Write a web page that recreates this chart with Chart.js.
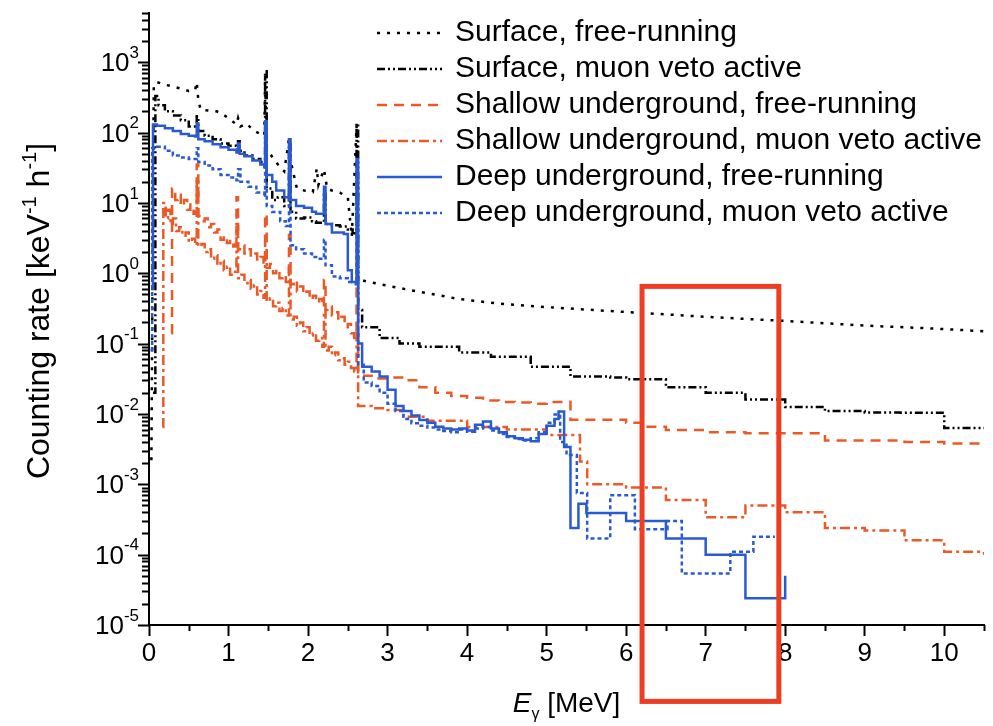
<!DOCTYPE html>
<html>
<head>
<meta charset="utf-8">
<script src="https://cdn.jsdelivr.net/npm/chart.js@4.4.1/dist/chart.umd.min.js"></script>
<style>
  html, body { margin: 0; padding: 0; background: #fff; }
</style>
</head>
<body>
<canvas id="chart-1" width="993" height="726"></canvas>
<script>
// axis ticks
const xTickLabels = [0, 1, 2, 3, 4, 5, 6, 7, 8, 9, 10];
const yTickExps = [-5, -4, -3, -2, -1, 0, 1, 2, 3];

// Surface, free-running (MeV, keV^-1 h^-1)
const surfFreeE = [0.03, 0.06, 0.1, 0.2, 0.3, 0.4, 0.5, 0.58, 0.6, 0.62, 0.65, 0.75, 0.85, 0.9, 1.0, 1.1, 1.12, 1.15, 1.23, 1.3, 1.4, 1.45, 1.46, 1.48, 1.56, 1.65, 1.7, 1.76, 1.78, 1.86, 1.95, 2.06, 2.11, 2.13, 2.2, 2.24, 2.3, 2.4, 2.5, 2.55, 2.61, 2.63, 2.7, 3.1, 3.5, 3.9, 4.4, 5.0, 5.8, 6.5, 7.0, 8.0, 9.0, 9.8, 10.5];
const surfFreeR = [0.0022, 480, 520, 480, 450, 420, 390, 400, 520, 290, 210, 205, 200, 190, 160, 130, 160, 122, 134, 110, 95, 90, 650, 60, 43, 32, 28, 80, 40, 16, 15, 14.3, 31, 18, 30, 16, 15, 14, 12, 3.3, 126, 0.8, 0.78, 0.63, 0.52, 0.43, 0.37, 0.33, 0.29, 0.26, 0.24, 0.21, 0.18, 0.165, 0.15];

// Surface, muon veto active
const surfVetoE = [0.05, 0.08, 0.12, 0.2, 0.3, 0.4, 0.5, 0.58, 0.6, 0.62, 0.7, 0.8, 0.9, 1.0, 1.1, 1.12, 1.14, 1.2, 1.3, 1.4, 1.45, 1.46, 1.48, 1.55, 1.62, 1.7, 1.76, 1.78, 1.85, 1.95, 2.05, 2.1, 2.2, 2.22, 2.3, 2.4, 2.5, 2.56, 2.61, 2.63, 2.68, 2.9, 3.15, 3.4, 3.9, 4.3, 4.8, 5.1, 5.3, 5.8, 6.0, 6.5, 7.0, 7.5, 8.0, 8.5, 9.0, 9.45, 10.0, 10.5];
const surfVetoR = [0.02, 330, 245, 200, 175, 150, 122, 115, 170, 105, 90, 80, 70, 65, 58, 75, 55, 47, 42, 38, 36, 740, 16, 11, 12, 9, 74, 7.5, 6, 6.2, 5.5, 5.2, 14, 5, 4.8, 4.6, 4.2, 3.7, 135, 0.3, 0.17, 0.12, 0.10, 0.09, 0.075, 0.065, 0.047, 0.047, 0.034, 0.033, 0.031, 0.024, 0.020, 0.016, 0.0126, 0.011, 0.0105, 0.0104, 0.0063, 0.0063];

// Shallow underground, free-running
const shalFreeE = [0.28, 0.29, 0.33, 0.36, 0.4, 0.44, 0.48, 0.52, 0.56, 0.59, 0.6, 0.62, 0.66, 0.7, 0.74, 0.78, 0.82, 0.86, 0.9, 0.94, 0.98, 1.02, 1.06, 1.09, 1.1, 1.12, 1.16, 1.2, 1.24, 1.28, 1.32, 1.36, 1.4, 1.44, 1.46, 1.48, 1.52, 1.56, 1.6, 1.64, 1.68, 1.72, 1.76, 1.78, 1.82, 1.86, 1.9, 1.94, 1.98, 2.02, 2.06, 2.1, 2.14, 2.18, 2.2, 2.22, 2.26, 2.3, 2.34, 2.38, 2.42, 2.46, 2.5, 2.54, 2.58, 2.61, 2.63,
  2.8, 3.0, 3.2, 3.4, 3.6, 3.8, 4.0, 4.2, 4.4, 4.6, 4.8, 5.0, 5.2, 5.3, 5.5, 6.0, 6.2, 6.5, 7.0, 7.5, 8.0, 8.5, 9.0, 9.5, 10.0, 10.5];
const shalFreeR = [0.14, 16, 11, 13, 9, 11, 8, 9.5, 7, 8, 35, 6.5, 5.5, 6, 4.5, 5, 3.8, 4.2, 3, 3.4, 2.7, 3, 2.4, 2.6, 12, 2.2, 2.5, 1.9, 2.2, 1.7, 1.9, 1.5, 1.7, 1.3, 7, 1.2, 1.35, 1.0, 1.15, 0.85, 0.95, 0.75, 3.5, 0.7, 0.8, 0.55, 0.65, 0.5, 0.55, 0.42, 0.48, 0.38, 0.43, 0.33, 0.8, 0.3, 0.34, 0.25, 0.28, 0.21, 0.24, 0.17, 0.19, 0.14, 0.12, 0.6, 0.035,
  0.032, 0.033, 0.030, 0.024, 0.020, 0.018, 0.017, 0.0155, 0.0148, 0.0145, 0.014, 0.0148, 0.0149, 0.0083, 0.0083, 0.0075, 0.0066, 0.0059, 0.0055, 0.0053, 0.0053, 0.0042, 0.0042, 0.004, 0.0038, 0.0038];

// Shallow underground, muon veto active
const shalVetoE = [0.17, 0.18, 0.21, 0.24, 0.27, 0.3, 0.34, 0.38, 0.42, 0.46, 0.5, 0.54, 0.58, 0.6, 0.62, 0.66, 0.7, 0.74, 0.78, 0.82, 0.86, 0.9, 0.94, 0.98, 1.02, 1.06, 1.1, 1.12, 1.16, 1.2, 1.24, 1.28, 1.32, 1.36, 1.4, 1.44, 1.46, 1.48, 1.52, 1.56, 1.6, 1.64, 1.68, 1.72, 1.76, 1.78, 1.82, 1.86, 1.9, 1.94, 1.98, 2.02, 2.06, 2.1, 2.14, 2.18, 2.2, 2.22, 2.26, 2.3, 2.34, 2.38, 2.42, 2.46, 2.5, 2.54, 2.58, 2.61, 2.63,
  2.8, 3.0, 3.2, 3.5, 4.0, 4.5, 5.0, 5.42, 5.51, 6.0, 6.5, 7.0, 7.5, 8.0, 8.5, 9.0, 9.5, 10.0, 10.5];
const shalVetoR = [0.0065, 10, 6, 8, 5, 6, 4, 4.5, 3.4, 3.8, 2.8, 3.1, 2.5, 20, 2.4, 2.6, 2.0, 2.2, 1.6, 1.8, 1.3, 1.5, 1.1, 1.25, 0.95, 1.05, 5, 0.85, 0.95, 0.72, 0.8, 0.6, 0.68, 0.5, 0.56, 0.45, 2.5, 0.4, 0.44, 0.34, 0.38, 0.29, 0.32, 0.25, 1.2, 0.22, 0.24, 0.18, 0.2, 0.15, 0.17, 0.13, 0.14, 0.11, 0.12, 0.09, 0.3, 0.08, 0.09, 0.068, 0.075, 0.058, 0.062, 0.05, 0.055, 0.045, 0.04, 0.15, 0.013,
  0.012, 0.0114, 0.0091, 0.008, 0.0065, 0.006, 0.005, 0.0021, 0.001, 0.0009, 0.0006, 0.00034, 0.0005, 0.0004, 0.00024, 0.00022, 0.00016, 0.00011, 0.0001];

// Deep underground, free-running
const deepFreeE = [0.03, 0.05, 0.1, 0.2, 0.3, 0.4, 0.5, 0.58, 0.6, 0.62, 0.7, 0.8, 0.9, 1.0, 1.1, 1.12, 1.14, 1.2, 1.3, 1.4, 1.45, 1.46, 1.48, 1.55, 1.6, 1.7, 1.76, 1.78, 1.85, 1.95, 2.05, 2.1, 2.2, 2.22, 2.3, 2.4, 2.45, 2.5, 2.55, 2.61, 2.63, 2.68, 2.8, 2.9, 3.0, 3.1, 3.2, 3.3, 3.4, 3.5, 3.6, 3.7, 3.8, 3.9, 4.0, 4.1, 4.2, 4.3, 4.4, 4.5, 4.6, 4.7, 4.8, 4.9, 5.0, 5.1, 5.15, 5.22, 5.3, 5.4, 5.5, 6.0, 6.5, 7.0, 7.5, 8.0];
const deepFreeR = [0.6, 130, 125, 115, 105, 95, 90, 88, 135, 80, 75, 68, 62, 57, 52, 70, 50, 46, 40, 35, 32, 145, 25, 20, 15, 12, 80, 11, 9, 8.5, 7.5, 7, 17, 5, 3.8, 3.8, 3.6, 1.1, 0.75, 42, 0.10, 0.047, 0.040, 0.034, 0.022, 0.013, 0.011, 0.0095, 0.0082, 0.0075, 0.0066, 0.0062, 0.006, 0.0062, 0.0058, 0.007, 0.0078, 0.0062, 0.0055, 0.0048, 0.0045, 0.0043, 0.0041, 0.0052, 0.0068, 0.0085, 0.0108, 0.0034, 0.00024, 0.00053, 0.00039, 0.0003, 0.00017, 0.0001, 0.000024, 0.00005];

// Deep underground, muon veto active
const deepVetoE = [0.02, 0.04, 0.1, 0.2, 0.3, 0.4, 0.5, 0.6, 0.62, 0.7, 0.8, 0.9, 1.0, 1.1, 1.12, 1.15, 1.25, 1.35, 1.45, 1.46, 1.48, 1.55, 1.65, 1.72, 1.76, 1.78, 1.85, 1.95, 2.05, 2.12, 2.2, 2.22, 2.3, 2.4, 2.5, 2.6, 2.61, 2.63, 2.7, 2.8, 2.9, 3.0, 3.1, 3.2, 3.3, 3.4, 3.5, 3.6, 3.7, 3.8, 3.9, 4.0, 4.1, 4.2, 4.3, 4.4, 4.5, 4.6, 4.7, 4.8, 4.9, 5.0, 5.1, 5.17, 5.25, 5.38, 5.51, 5.8, 6.11, 6.52, 6.7, 7.31, 7.6, 7.87];
const deepVetoR = [0.08, 60, 63, 55, 47, 44, 42, 60, 38, 34, 30, 25, 23, 21, 30, 20, 17, 14, 12, 60, 9, 7.4, 5.5, 4.7, 25, 2.5, 2.2, 1.9, 1.7, 1.6, 3, 1.3, 0.9, 0.85, 0.75, 0.7, 20, 0.05, 0.028, 0.025, 0.02, 0.014, 0.011, 0.0085, 0.0074, 0.0068, 0.0064, 0.006, 0.0057, 0.0055, 0.006, 0.0056, 0.0062, 0.0065, 0.0058, 0.0052, 0.0047, 0.0044, 0.0042, 0.0045, 0.0055, 0.0075, 0.0098, 0.004, 0.0026, 0.00075, 0.00017, 0.0007, 0.00023, 0.0003, 0.000054, 0.00011, 0.00018, 0.00018];

// highlighted region (red frame)
const boxE = [6.2, 7.92];
const boxRate = [8.2e-7, 0.65];

const FONT = '"Liberation Sans", Arial, sans-serif';
const BLACK = '#000000';
const ORANGE = '#ea5a28';
const BLUE = '#2a5ad2';

const pts = (es, rs) => es.map((e, i) => ({ x: e, y: rs[i] }));

const decor = {
  id: 'decor',
  afterDatasetsDraw(chart) {
    const ctx = chart.ctx, xs = chart.scales.x, ys = chart.scales.y;
    const x1 = xs.getPixelForValue(boxE[0]), x2 = xs.getPixelForValue(boxE[1]);
    const y1 = ys.getPixelForValue(boxRate[1]), y2 = ys.getPixelForValue(boxRate[0]);
    ctx.save();
    ctx.strokeStyle = '#ef3d22';
    ctx.lineWidth = 5;
    ctx.setLineDash([]);
    ctx.strokeRect(x1, y1, x2 - x1, y2 - y1);
    ctx.restore();
  },
  afterDraw(chart) {
    const ctx = chart.ctx, xs = chart.scales.x, ys = chart.scales.y;
    const area = chart.chartArea;
    ctx.save();
    ctx.strokeStyle = BLACK;
    ctx.fillStyle = BLACK;
    ctx.lineWidth = 2;
    ctx.setLineDash([]);

    // y ticks (log minors)
    for (let p = yTickExps[0]; p <= yTickExps[yTickExps.length - 1] + 1; p++) {
      for (let m = 1; m <= 9; m++) {
        const v = m * Math.pow(10, p);
        if (v > ys.max * 1.0001) break;
        const py = Math.round(ys.getPixelForValue(v)) + 0.5;
        const len = m === 1 ? 11 : 7;
        ctx.beginPath();
        ctx.moveTo(area.left - len, py);
        ctx.lineTo(area.left, py);
        ctx.stroke();
      }
    }
    // y tick labels 10^n
    ctx.textBaseline = 'middle';
    ctx.textAlign = 'left';
    yTickExps.forEach(p => {
      const py = ys.getPixelForValue(Math.pow(10, p));
      ctx.font = '26px ' + FONT;
      const wb = ctx.measureText('10').width;
      ctx.font = '17px ' + FONT;
      const sup = String(p);
      const ws = ctx.measureText(sup).width;
      const xr = area.left - 10;
      ctx.font = '26px ' + FONT;
      ctx.fillText('10', xr - wb - ws, py + 2);
      ctx.font = '17px ' + FONT;
      ctx.fillText(sup, xr - ws, py - 9);
    });

    // x minor ticks
    for (let v = 0.5; v <= xs.max + 0.001; v += 1) {
      const px = Math.round(xs.getPixelForValue(v)) + 0.5;
      ctx.beginPath();
      ctx.moveTo(px, area.bottom);
      ctx.lineTo(px, area.bottom + 6);
      ctx.stroke();
    }

    // x title: E_gamma [MeV]
    ctx.textBaseline = 'alphabetic';
    ctx.font = 'italic 28px ' + FONT;
    const wE = ctx.measureText('E').width;
    ctx.font = '16px ' + FONT;
    const wg = ctx.measureText('\u03b3').width;
    ctx.font = '28px ' + FONT;
    const wr = ctx.measureText(' [MeV]').width;
    let tx = (area.left + area.right) / 2 - (wE + wg + wr) / 2;
    const ty = 712;
    ctx.font = 'italic 28px ' + FONT;
    ctx.fillText('E', tx, ty);
    tx += wE;
    ctx.font = '16px ' + FONT;
    ctx.fillText('\u03b3', tx, ty + 7);
    tx += wg;
    ctx.font = '28px ' + FONT;
    ctx.fillText(' [MeV]', tx, ty);

    // y title: Counting rate [keV^-1 h^-1]
    const parts = [
      ['Counting rate [keV', 32, 0],
      ['-1', 20, -13],
      [' h', 32, 0],
      ['-1', 20, -13],
      [']', 32, 0]
    ];
    let total = 0;
    parts.forEach(pt => { ctx.font = pt[1] + 'px ' + FONT; total += ctx.measureText(pt[0]).width; });
    ctx.translate(49, (area.top + area.bottom) / 2 - 8);
    ctx.rotate(-Math.PI / 2);
    let sx = -total / 2;
    parts.forEach(pt => {
      ctx.font = pt[1] + 'px ' + FONT;
      ctx.fillText(pt[0], sx, pt[2]);
      sx += ctx.measureText(pt[0]).width;
    });
    ctx.setTransform(1, 0, 0, 1, 0, 0);

    // legend
    ctx.textBaseline = 'middle';
    ctx.font = '30px ' + FONT;
    chart.data.datasets.forEach((ds, i) => {
      const ly = 33 + i * 36;
      ctx.strokeStyle = ds.borderColor;
      ctx.lineWidth = 2.5;
      ctx.setLineDash(ds.borderDash || []);
      ctx.beginPath();
      ctx.moveTo(377, ly);
      ctx.lineTo(442, ly);
      ctx.stroke();
      ctx.fillStyle = BLACK;
      ctx.fillText(ds.label, 455, ly);
    });
    ctx.restore();
  }
};

const ctx_1 = document.getElementById('chart-1').getContext('2d');

new Chart(ctx_1, {
  type: 'line',
  data: {
    datasets: [{
      label: 'Surface, free-running',
      data: pts(surfFreeE, surfFreeR),
      borderColor: BLACK,
      borderWidth: 2.5,
      borderDash: [3, 7],
      stepped: false,
      order: 5
    }, {
      label: 'Surface, muon veto active',
      data: pts(surfVetoE, surfVetoR),
      borderColor: BLACK,
      borderWidth: 2.5,
      borderDash: [8, 3, 2, 3, 2, 3],
      stepped: true,
      order: 4
    }, {
      label: 'Shallow underground, free-running',
      data: pts(shalFreeE, shalFreeR),
      borderColor: ORANGE,
      borderWidth: 2.5,
      borderDash: [10, 7],
      stepped: true,
      order: 3
    }, {
      label: 'Shallow underground, muon veto active',
      data: pts(shalVetoE, shalVetoR),
      borderColor: ORANGE,
      borderWidth: 2.5,
      borderDash: [10, 4, 3, 4],
      stepped: true,
      order: 2
    }, {
      label: 'Deep underground, free-running',
      data: pts(deepFreeE, deepFreeR),
      borderColor: BLUE,
      borderWidth: 2.5,
      stepped: true,
      order: 1
    }, {
      label: 'Deep underground, muon veto active',
      data: pts(deepVetoE, deepVetoR),
      borderColor: BLUE,
      borderWidth: 2.5,
      borderDash: [4, 3],
      stepped: true,
      order: 0
    }]
  },
  options: {
    responsive: false,
    animation: false,
    layout: { padding: { left: 0, top: 13, right: 9, bottom: 0 } },
    elements: { point: { radius: 0 }, line: { tension: 0 } },
    plugins: {
      legend: { display: false },
      tooltip: { enabled: false }
    },
    scales: {
      x: {
        type: 'linear',
        min: 0,
        max: 10.5,
        afterFit: (scale) => { scale.height = 101; },
        border: { display: true, color: BLACK, width: 2 },
        grid: {
          drawOnChartArea: false,
          drawTicks: true,
          tickLength: 11,
          tickWidth: 2,
          tickColor: (c) => (c.tick && xTickLabels.includes(c.tick.value)) ? BLACK : 'rgba(0,0,0,0)'
        },
        ticks: {
          stepSize: 1,
          includeBounds: false,
          padding: 2,
          color: BLACK,
          font: { family: FONT, size: 26 },
          maxRotation: 0,
          autoSkip: false,
          callback: (v) => xTickLabels.includes(v) ? String(v) : ''
        }
      },
      y: {
        type: 'logarithmic',
        min: 1e-5,
        max: 5000,
        afterFit: (scale) => { scale.width = 149; },
        border: { display: true, color: BLACK, width: 2 },
        grid: { display: false },
        ticks: { display: false }
      }
    }
  },
  plugins: [decor]
});
</script>
</body>
</html>
